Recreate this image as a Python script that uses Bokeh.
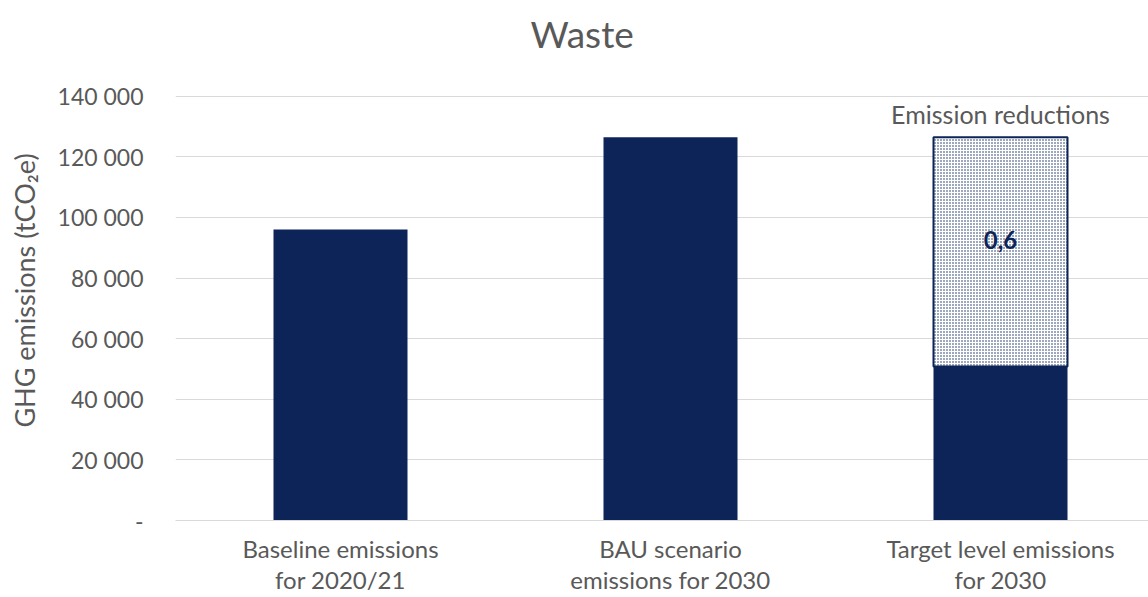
from bokeh.plotting import figure
from bokeh.models import ColumnDataSource, FixedTicker, Range1d
from bokeh.core.properties import value
from bokeh.embed import file_html
from bokeh.resources import INLINE

# ---- data ----
title_text = "Waste"
categories = ["Baseline emissions\nfor 2020/21",
              "BAU scenario\nemissions for 2030",
              "Target level emissions\nfor 2030"]
solid_values = [96000, 126500, 50800]          # emissions (tCO2e)
reduction_values = [0, 0, 75700]               # emission reductions (tCO2e)
reduction_labels = ["", "", "0,6"]
reduction_series = "Emission reductions"
y_label = "GHG emissions (tCO\u2082e)"
y_ticks = [0, 20000, 40000, 60000, 80000, 100000, 120000, 140000]
y_tick_labels = ["-", "20 000", "40 000", "60 000", "80 000", "100 000", "120 000", "140 000"]

# ---- style ----
FONT = "Lato"
NAVY = "#0c2457"
GREY_TXT = "#595959"
GRID = "#d9d9d9"

x_pos = list(range(len(categories)))
tops = [s + r for s, r in zip(solid_values, reduction_values)]
mids = [s + r / 2 for s, r in zip(solid_values, reduction_values)]

src = ColumnDataSource(dict(x=x_pos, solid=solid_values))
idx_red = [i for i, r in enumerate(reduction_values) if r > 0]
src_red = ColumnDataSource(dict(x=[x_pos[i] for i in idx_red],
                                bottom=[solid_values[i] for i in idx_red],
                                top=[tops[i] for i in idx_red],
                                mid=[mids[i] for i in idx_red],
                                lab=[reduction_labels[i] for i in idx_red],
                                name=[reduction_series for _ in idx_red]))

W, H = 1148, 597
LEFT, TOP, BOTTOM = 175, 60, 74
PLOT_AREA_H = 427            # pixel height of the 0..max-tick area
frame_w = W - LEFT
frame_h = H - TOP - BOTTOM
cat_px = 330.0

p = figure(width=W, height=H, output_backend="svg", toolbar_location=None,
           x_range=Range1d(-0.5, -0.5 + frame_w / cat_px),
           y_range=Range1d(y_ticks[0], y_ticks[-1] * frame_h / PLOT_AREA_H),
           min_border_left=LEFT, min_border_right=0,
           min_border_top=TOP, min_border_bottom=BOTTOM)
p.outline_line_color = None
p.background_fill_color = "white"

BAR_W = 134 / cat_px
p.vbar(x="x", top="solid", bottom=0, width=BAR_W, source=src,
       fill_color=NAVY, line_color=None)
p.vbar(x="x", top="top", bottom="bottom", width=BAR_W, source=src_red,
       fill_color="white", line_color=NAVY, line_width=2,
       hatch_pattern="dot", hatch_color=NAVY, hatch_scale=3, hatch_weight=1.2)

p.text(x="x", y="mid", text="lab", source=src_red, text_font=value(FONT),
       text_font_size="24px", text_font_style="bold", text_color=NAVY,
       text_align="center", text_baseline="middle", y_offset=-12)
p.text(x="x", y="top", text="name", source=src_red, text_font=value(FONT),
       text_font_size="25px", text_color=GREY_TXT,
       text_align="center", text_baseline="bottom", y_offset=-8)

# title
p.title.text = title_text
p.title.text_font = FONT
p.title.text_font_size = "37px"
p.title.text_font_style = "normal"
p.title.text_color = GREY_TXT
p.title.align = "left"
p.title.offset = 355
p.title.vertical_align = "bottom"
p.title.standoff = 10

# y axis
p.yaxis.ticker = FixedTicker(ticks=y_ticks)
p.yaxis.major_label_overrides = {t: l for t, l in zip(y_ticks, y_tick_labels)}
p.yaxis.axis_line_color = None
p.yaxis.major_tick_line_color = None
p.yaxis.minor_tick_line_color = None
p.yaxis.major_label_standoff = 26
p.yaxis.major_label_text_font = FONT
p.yaxis.major_label_text_font_size = "23px"
p.yaxis.major_label_text_color = GREY_TXT
p.yaxis.axis_label = y_label
p.yaxis.axis_label_text_font = FONT
p.yaxis.axis_label_text_font_size = "27px"
p.yaxis.axis_label_text_font_style = "normal"
p.yaxis.axis_label_text_color = GREY_TXT
p.yaxis.axis_label_standoff = 14

# x axis
p.xaxis.ticker = FixedTicker(ticks=x_pos)
p.xaxis.major_label_overrides = {i: c for i, c in zip(x_pos, categories)}
p.xaxis.axis_line_color = GRID
p.xaxis.axis_line_width = 1
p.xaxis.major_tick_line_color = None
p.xaxis.minor_tick_line_color = None
p.xaxis.major_label_standoff = 7
p.xaxis.major_label_text_font = FONT
p.xaxis.major_label_text_font_size = "24px"
p.xaxis.major_label_text_line_height = 1.1
p.xaxis.major_label_text_color = GREY_TXT

p.xgrid.grid_line_color = None
p.ygrid.ticker = FixedTicker(ticks=y_ticks)
p.ygrid.grid_line_color = GRID
p.ygrid.grid_line_width = 1

open("out.html", "w").write(file_html(p, INLINE))
